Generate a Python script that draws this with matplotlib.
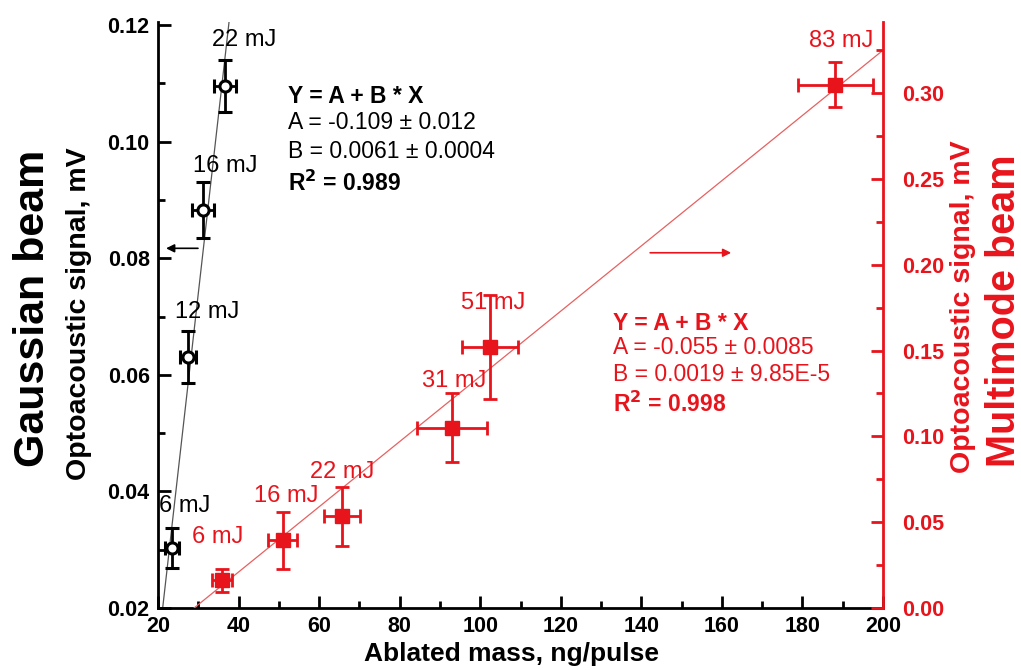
import numpy as np
import matplotlib.pyplot as plt

plt.rcParams['font.family'] = ['Liberation Sans', 'DejaVu Sans']

# Gaussian beam (left axis)
g_mass = [23.5, 27.4, 31.2, 36.6]
g_mass_err = [1.7, 2.0, 2.7, 2.8]
g_signal = [0.0303, 0.0631, 0.0883, 0.1095]
g_signal_err = [0.0034, 0.0045, 0.0048, 0.0045]
g_labels = ["6 mJ", "12 mJ", "16 mJ", "22 mJ"]
g_fit = (-0.109, 0.0061)

# Multimode beam (right axis)
m_mass = [35.9, 51.0, 65.7, 93.0, 102.4, 188.2]
m_mass_err = [2.5, 3.6, 4.5, 8.6, 7.0, 9.3]
m_signal = [0.0163, 0.0396, 0.0536, 0.1049, 0.1521, 0.3048]
m_signal_err = [0.0067, 0.0166, 0.0172, 0.0201, 0.0303, 0.0131]
m_labels = ["6 mJ", "16 mJ", "22 mJ", "31 mJ", "51 mJ", "83 mJ"]
m_fit = (-0.055, 0.0019)

red = "#e8141c"

fig = plt.figure(figsize=(10.21, 6.70), dpi=100)
ax = fig.add_axes([0.1548, 0.0925, 0.71, 0.8745])
ax2 = ax.twinx()

# fit lines
xs = np.linspace(20, 40, 50)
ax.plot(xs, g_fit[0] + g_fit[1] * xs, color="#555555", lw=0.9, zorder=1)
xs2 = np.linspace(28.9, 200, 50)
ax2.plot(xs2, m_fit[0] + m_fit[1] * xs2, color="#e86060", lw=0.9, zorder=1)

ax.errorbar(g_mass, g_signal, xerr=g_mass_err, yerr=g_signal_err, fmt='o',
            mfc='white', mec='black', mew=2.2, ms=8, color='black',
            ecolor='black', elinewidth=2, capsize=5, capthick=2, zorder=3)
ax2.errorbar(m_mass, m_signal, xerr=m_mass_err, yerr=m_signal_err, fmt='s',
             color=red, ms=10, ecolor=red, elinewidth=2, capsize=5,
             capthick=2, zorder=3)

# point labels (offsets in pixels from top of error bar)
g_off = [(12, 11), (19, 8), (22, 5), (19, 9)]
for x, y, e, t, o in zip(g_mass, g_signal, g_signal_err, g_labels, g_off):
    ax.annotate(t, (x, y + e), xytext=o, textcoords='offset pixels',
                ha='center', va='bottom', fontsize=17, color='black')
m_off = [(-4, 21), (3, 5), (0, 4), (2, 1), (3, -19), (6, 10)]
for x, y, e, t, o in zip(m_mass, m_signal, m_signal_err, m_labels, m_off):
    ax2.annotate(t, (x, y + e), xytext=o, textcoords='offset pixels',
                 ha='center', va='bottom', fontsize=17, color=red)

# arrows
ax.annotate("", xy=(21.3, 0.0817), xytext=(30.6, 0.0817),
            arrowprops=dict(arrowstyle='-|>', color='black', lw=1.2,
                            mutation_scale=12))
ax2.annotate("", xy=(163, 0.207), xytext=(141.5, 0.207),
             arrowprops=dict(arrowstyle='-|>', color=red, lw=1.2,
                             mutation_scale=12))

# fit text
fs = 16.5
ax.text(0.179, 0.873, "Y = A + B * X", transform=ax.transAxes, fontsize=fs,
        fontweight='bold', va='center')
ax.text(0.179, 0.829, "A = -0.109 ± 0.012", transform=ax.transAxes, fontsize=fs,
        va='center')
ax.text(0.179, 0.780, "B = 0.0061 ± 0.0004", transform=ax.transAxes, fontsize=fs,
        va='center')
ax.text(0.179, 0.725, "R$^{\\mathbf{2}}$ = 0.989", transform=ax.transAxes,
        fontsize=fs, fontweight='bold', va='center')

ax2.text(0.628, 0.486, "Y = A + B * X", transform=ax.transAxes, fontsize=fs,
         fontweight='bold', va='center', color=red)
ax2.text(0.628, 0.444, "A = -0.055 ± 0.0085", transform=ax.transAxes,
         fontsize=fs, va='center', color=red)
ax2.text(0.628, 0.399, "B = 0.0019 ± 9.85E-5", transform=ax.transAxes,
         fontsize=fs, va='center', color=red)
ax2.text(0.628, 0.348, "R$^{\\mathbf{2}}$ = 0.998", transform=ax.transAxes,
         fontsize=fs, fontweight='bold', va='center', color=red)

# axes setup
ax.set_xlim(20, 200)
ax.set_ylim(0.02, 0.1205)
ax2.set_ylim(0, 0.3414)
ax.set_xticks(np.arange(20, 201, 20))
ax.set_xticks(np.arange(20, 201, 10), minor=True)
ax.set_yticks(np.arange(0.02, 0.121, 0.02))
ax.set_yticks(np.arange(0.02, 0.121, 0.01), minor=True)
ax2.set_yticks(np.arange(0, 0.31, 0.05))
ax2.set_yticks(np.arange(0, 0.34, 0.025), minor=True)
ax.set_yticklabels([f"{v:.2f}" for v in np.arange(0.02, 0.121, 0.02)])
ax2.set_yticklabels([f"{v:.2f}" for v in np.arange(0, 0.31, 0.05)])

for a in (ax, ax2):
    a.spines['top'].set_visible(False)
ax.spines['left'].set_linewidth(2)
ax.spines['bottom'].set_linewidth(2)
ax.spines['right'].set_visible(False)
ax2.spines['left'].set_visible(False)
ax2.spines['bottom'].set_visible(False)
ax2.spines['right'].set_linewidth(2)
ax2.spines['right'].set_color(red)

ax.tick_params(axis='both', which='major', direction='in', length=9, width=2,
               labelsize=15.5, pad=6)
ax.tick_params(axis='both', which='minor', direction='in', length=5, width=2)
ax2.tick_params(axis='y', which='major', direction='in', length=9, width=2,
                labelsize=15.5, color=red, labelcolor=red, pad=14)
ax2.tick_params(axis='y', which='minor', direction='in', length=5, width=2,
                color=red)
for lbl in ax.get_xticklabels() + ax.get_yticklabels() + ax2.get_yticklabels():
    lbl.set_fontweight('bold')

ax.set_xlabel("Ablated mass, ng/pulse", fontsize=19, fontweight='bold')
ax.set_ylabel("Optoacoustic signal, mV", fontsize=20.5, fontweight='bold')
ax2.set_ylabel("Optoacoustic signal, mV", fontsize=20.5, fontweight='bold',
               color=red)
ax.xaxis.set_label_coords(0.488, -0.058)
ax.yaxis.set_label_coords(-0.091, 0.503)
ax2.yaxis.set_label_coords(1.0924, 0.514)
fig.text(0.032, 0.540, "Gaussian beam", rotation=90, fontsize=31,
         fontweight='bold', ha='center', va='center')
fig.text(0.983, 0.536, "Multimode beam", rotation=90, fontsize=28.5,
         fontweight='bold', ha='center', va='center', color=red)

fig.savefig("out.png", dpi=100)
